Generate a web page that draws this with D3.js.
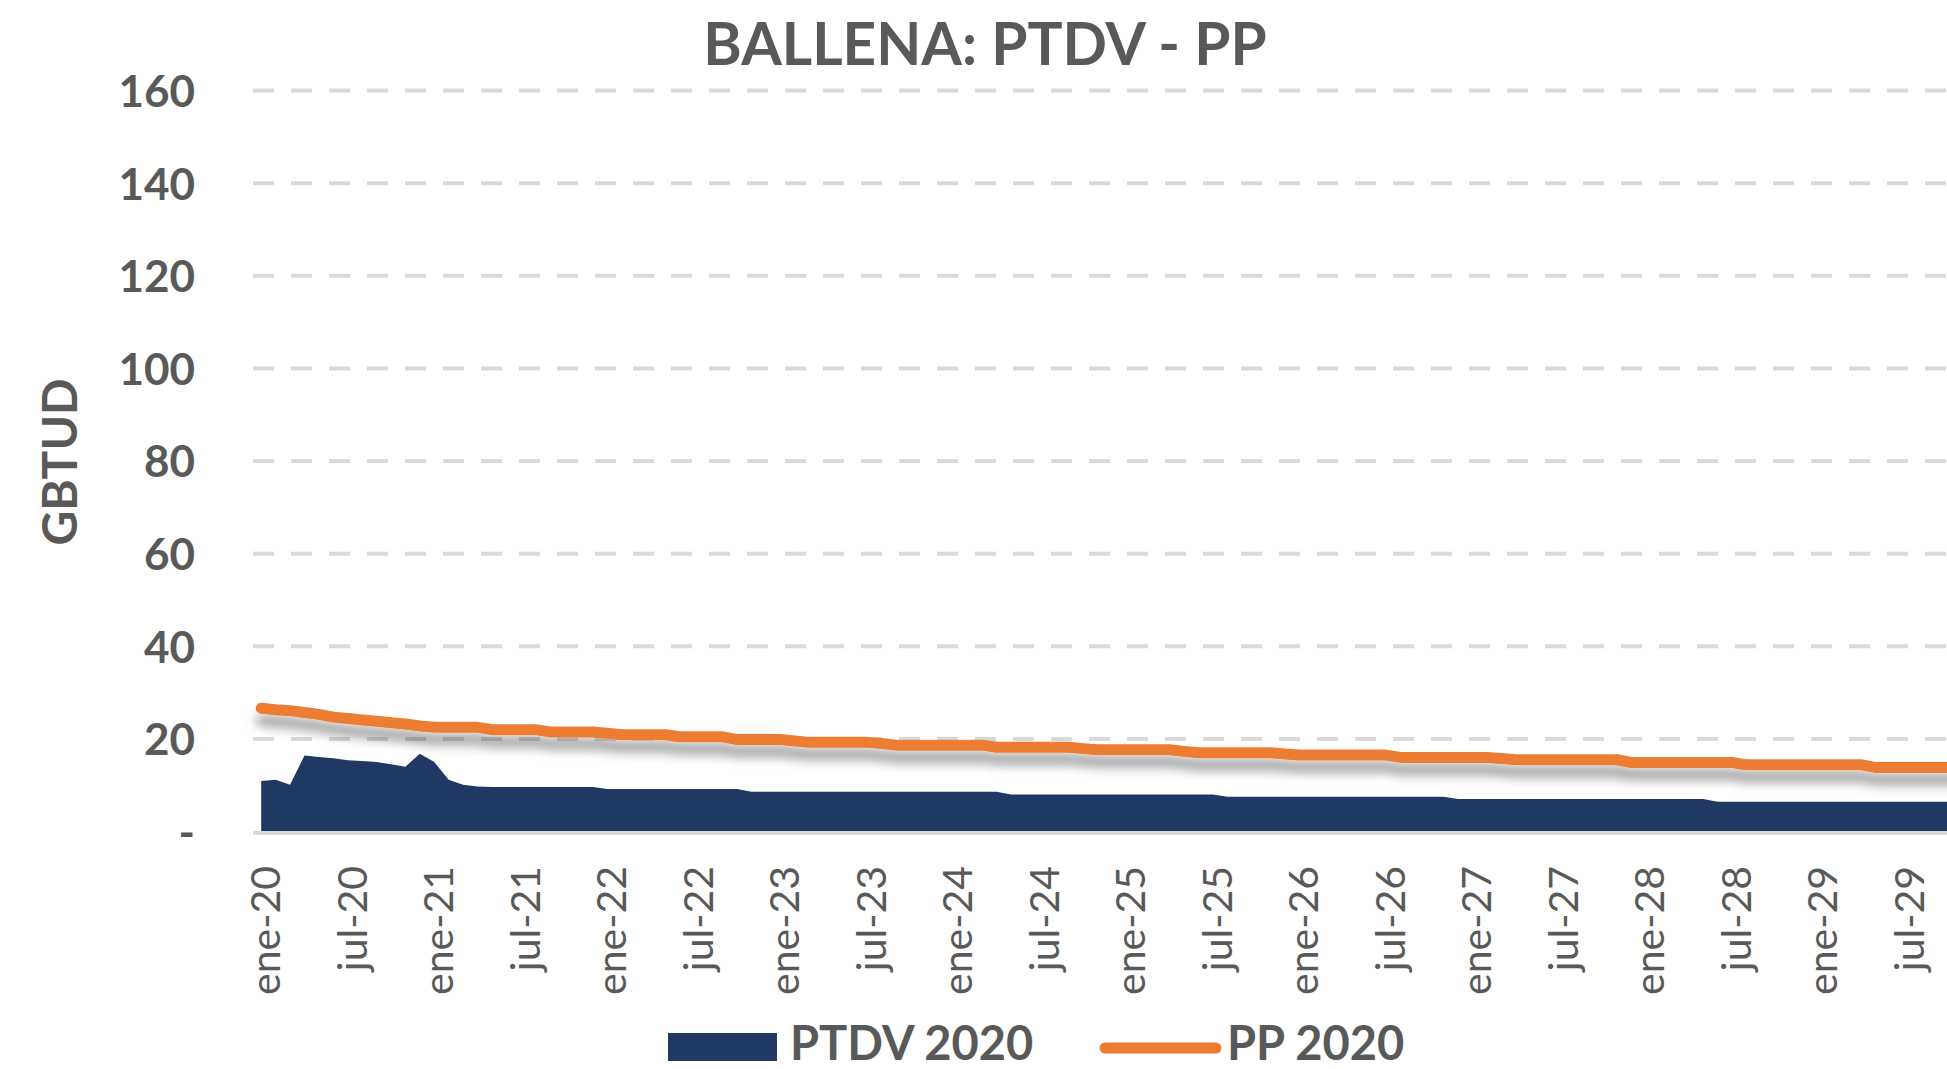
<!DOCTYPE html>
<html><head><meta charset="utf-8">
<script src="https://cdn.jsdelivr.net/npm/d3@7"></script>
<style>html,body{margin:0;padding:0;background:#fff;overflow:hidden}</style>
</head><body><svg id="c" width="1947" height="1069"></svg>
<script>
// ---------- data ----------
const chartTitle = "BALLENA: PTDV - PP";
const yAxisTitle = "GBTUD";
const seriesNames = ["PTDV 2020", "PP 2020"];
const monthAbbr = ["ene","feb","mar","abr","may","jun","jul","ago","sep","oct","nov","dic"];
const years = ["20","21","22","23","24","25","26","27","28","29"];
const yTicks = [0, 20, 40, 60, 80, 100, 120, 140, 160];
const xTickMonths = ["ene", "jul"];

// PTDV 2020 (area) monthly, ene-20 .. dic-29
const ptdv2020 = [
  10.9, 11.2, 10.1, 16.4, 16.1, 15.8, 15.4, 15.2, 15.0, 14.5, 14.0, 16.8,
  15.0, 11.2, 10.1, 9.7, 9.6, 9.6, 9.6, 9.6, 9.6, 9.6, 9.6, 9.6,
  9.2, 9.2, 9.2, 9.2, 9.2, 9.2, 9.2, 9.2, 9.2, 9.2, 8.6, 8.6,
  8.6, 8.6, 8.6, 8.6, 8.6, 8.6, 8.6, 8.6, 8.6, 8.6, 8.6, 8.6,
  8.6, 8.6, 8.6, 8.6, 8.0, 8.0, 8.0, 8.0, 8.0, 8.0, 8.0, 8.0,
  8.0, 8.0, 8.0, 8.0, 8.0, 8.0, 8.0, 7.5, 7.5, 7.5, 7.5, 7.5,
  7.5, 7.5, 7.5, 7.5, 7.5, 7.5, 7.5, 7.5, 7.5, 7.5, 7.5, 7.0,
  7.0, 7.0, 7.0, 7.0, 7.0, 7.0, 7.0, 7.0, 7.0, 7.0, 7.0, 7.0,
  7.0, 7.0, 7.0, 7.0, 7.0, 6.4, 6.4, 6.4, 6.4, 6.4, 6.4, 6.4,
  6.4, 6.4, 6.4, 6.4, 6.4, 6.4, 6.4, 6.4, 6.4, 6.4, 6.4, 6.4
];
// PP 2020 (line) monthly, ene-20 .. dic-29
const pp2020 = [
  26.6, 26.3, 26.1, 25.7, 25.3, 24.7, 24.4, 24.1, 23.8, 23.5, 23.2, 22.8,
  22.5, 22.5, 22.5, 22.5, 22.0, 22.0, 22.0, 22.0, 21.5, 21.5, 21.5, 21.5,
  21.2, 20.9, 20.9, 20.9, 20.9, 20.45, 20.45, 20.45, 20.45, 19.85, 19.85, 19.85,
  19.85, 19.55, 19.25, 19.25, 19.25, 19.25, 19.25, 19.0, 18.65, 18.65, 18.65, 18.65,
  18.65, 18.65, 18.65, 18.2, 18.2, 18.2, 18.2, 18.2, 18.2, 17.9, 17.65, 17.65,
  17.65, 17.65, 17.65, 17.65, 17.3, 17.0, 17.0, 17.0, 17.0, 17.0, 17.0, 16.75,
  16.5, 16.5, 16.5, 16.5, 16.5, 16.5, 16.5, 16.0, 16.0, 16.0, 16.0, 16.0,
  16.0, 16.0, 15.75, 15.5, 15.5, 15.5, 15.5, 15.5, 15.5, 15.5, 15.5, 14.9,
  14.9, 14.9, 14.9, 14.9, 14.9, 14.9, 14.9, 14.4, 14.4, 14.4, 14.4, 14.4,
  14.4, 14.4, 14.4, 14.4, 13.8, 13.8, 13.8, 13.8, 13.8, 13.8, 13.8, 13.8
];

// ---------- chart ----------
const categories = [];
years.forEach(yy => monthAbbr.forEach(m => categories.push(m + "-" + yy)));
const rows = categories.map((c, i) => ({ c, ptdv: ptdv2020[i], pp: pp2020[i] }));

const W = 1947, H = 1069;
const textColor = "#595959";
const navy = "#203864", orange = "#ED7D31", grid = "#D9D9D9";
const font = "Lato, 'Open Sans', sans-serif";
const plotLeft = 253;

const svg = d3.select("#c");
svg.append("rect").attr("width", W).attr("height", H).attr("fill", "#fff");

const defs = svg.append("defs");
const f = defs.append("filter").attr("id", "shadow")
  .attr("filterUnits", "userSpaceOnUse").attr("x", 0).attr("y", 0).attr("width", W).attr("height", H);
f.append("feGaussianBlur").attr("in", "SourceAlpha").attr("stdDeviation", 5.5).attr("result", "blur");
f.append("feOffset").attr("in", "blur").attr("dy", 12).attr("result", "off");
f.append("feFlood").attr("flood-color", "#000").attr("flood-opacity", 0.38).attr("result", "col");
f.append("feComposite").attr("in", "col").attr("in2", "off").attr("operator", "in").attr("result", "sh");
const fm = f.append("feMerge");
fm.append("feMergeNode").attr("in", "sh");
fm.append("feMergeNode").attr("in", "SourceGraphic");

const x = d3.scaleBand().domain(categories).range([254, 254 + categories.length * 14.42]).padding(0);
const cx = c => x(c) + x.bandwidth() / 2;
const y = d3.scaleLinear().domain([0, 160]).range([831.5, 90.6]);

// gridlines
svg.append("g").selectAll("line").data(yTicks.filter(t => t > 0)).join("line")
  .attr("x1", plotLeft).attr("x2", W)
  .attr("y1", d => y(d)).attr("y2", d => y(d))
  .attr("stroke", grid).attr("stroke-width", 4).attr("stroke-dasharray", "21,17");

// area
const area = d3.area().x(d => cx(d.c)).y0(y(0)).y1(d => y(d.ptdv));
svg.append("path").datum(rows).attr("d", area).attr("fill", navy);

// category axis line
svg.append("line").attr("x1", plotLeft).attr("x2", W)
  .attr("y1", y(0) + 1.5).attr("y2", y(0) + 1.5)
  .attr("stroke", grid).attr("stroke-width", 4);

// line
const line = d3.line().x(d => cx(d.c)).y(d => y(d.pp));
svg.append("path").datum(rows).attr("d", line)
  .attr("fill", "none").attr("stroke", orange).attr("stroke-width", 11)
  .attr("stroke-linejoin", "round").attr("stroke-linecap", "round")
  .attr("filter", "url(#shadow)");

// y axis
const yAxis = d3.axisLeft(y).tickValues(yTicks).tickSize(0).tickPadding(58)
  .tickFormat(d => d === 0 ? "-" : d);
const gy = svg.append("g").attr("transform", `translate(${plotLeft},0)`).call(yAxis);
gy.select(".domain").remove();
gy.selectAll("text").attr("fill", textColor).style("font-family", font)
  .style("font-size", "44px").style("font-weight", "700").attr("dy", "0.36em");

// x axis
const xAxis = d3.axisBottom(x)
  .tickValues(categories.filter(c => xTickMonths.includes(c.slice(0, 3))))
  .tickSize(0);
const gx = svg.append("g").attr("transform", "translate(0,866)").call(xAxis);
gx.select(".domain").remove();
gx.selectAll("text")
  .attr("transform", "rotate(-90)").attr("x", 0).attr("y", 0).attr("dy", "0.46em")
  .style("text-anchor", "end").attr("fill", textColor)
  .style("font-family", font).style("font-size", "41px").style("font-weight", "400");

// titles
svg.append("text").attr("x", 985).attr("y", 65).attr("text-anchor", "middle")
  .attr("fill", textColor).style("font-family", font).style("font-size", "58.5px")
  .style("font-weight", "700").text(chartTitle);
svg.append("text").attr("transform", "translate(77,462) rotate(-90)").attr("text-anchor", "middle")
  .attr("fill", textColor).style("font-family", font).style("font-size", "48px")
  .style("font-weight", "700").text(yAxisTitle);

// legend
const lg = svg.append("g");
lg.append("rect").attr("x", 668).attr("y", 1033).attr("width", 109).attr("height", 28).attr("fill", navy);
lg.append("text").attr("x", 790).attr("y", 1060).attr("fill", textColor)
  .style("font-family", font).style("font-size", "47px").style("font-weight", "700").text(seriesNames[0]);
lg.append("line").attr("x1", 1105).attr("x2", 1216).attr("y1", 1048).attr("y2", 1048)
  .attr("stroke", orange).attr("stroke-width", 11).attr("stroke-linecap", "round");
lg.append("text").attr("x", 1227).attr("y", 1060).attr("fill", textColor)
  .style("font-family", font).style("font-size", "47px").style("font-weight", "700").text(seriesNames[1]);
</script>
</body></html>
